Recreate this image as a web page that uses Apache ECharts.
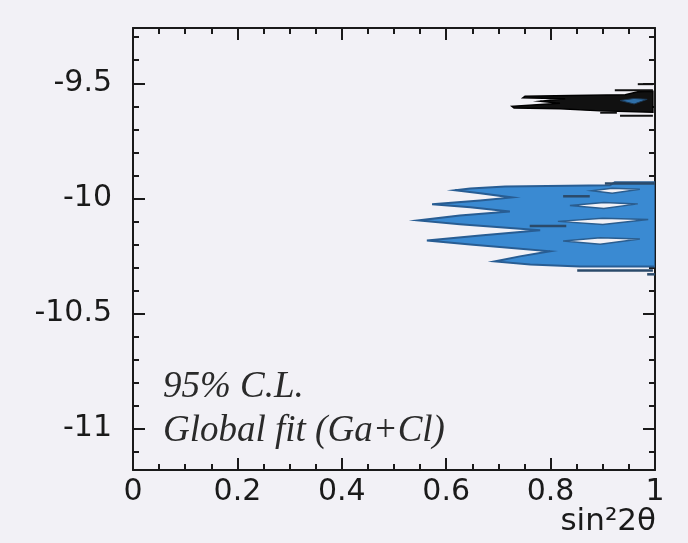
<!DOCTYPE html>
<html><head><meta charset="utf-8">
<script src="https://cdn.jsdelivr.net/npm/echarts@6/dist/echarts.min.js"></script>
<style>html,body{margin:0;padding:0;background:#f2f1f6}#c{width:688px;height:543px}</style>
</head><body><div id="c"></div>
<script>
// ---- data (x = sin^2 2theta, y = log10 dm^2) ----
const xRange = [0, 1];
const yRange = [-11.18, -9.26];
const yMajorTicks = [-11, -10.5, -10, -9.5];
const yMinorTicks = [-11.1, -10.9, -10.8, -10.7, -10.6, -10.4, -10.3, -10.2, -10.1, -9.9, -9.8, -9.7, -9.6, -9.4, -9.3];

// blue (global fit) region outline
const blueOutline = [
  [1.000,-9.930],[0.923,-9.930],[0.914,-9.943],[0.713,-9.948],[0.646,-9.957],[0.617,-9.965],
  [0.665,-9.978],[0.726,-9.996],[0.665,-10.009],[0.573,-10.026],[0.646,-10.039],[0.722,-10.057],
  [0.626,-10.074],[0.546,-10.096],[0.626,-10.113],[0.780,-10.139],[0.665,-10.161],[0.563,-10.183],
  [0.646,-10.200],[0.799,-10.230],[0.741,-10.252],[0.693,-10.274],[0.761,-10.287],[0.856,-10.296],
  [1.000,-10.296]
];
// white holes inside the blue region
const blueHoles = [
  [[0.879,-9.967],[0.918,-9.956],[0.971,-9.960],[0.918,-9.978]],
  [[0.837,-10.031],[0.902,-10.018],[0.967,-10.024],[0.902,-10.044]],
  [[0.814,-10.100],[0.900,-10.086],[0.987,-10.092],[0.900,-10.114]],
  [[0.824,-10.185],[0.895,-10.171],[0.971,-10.177],[0.895,-10.199]]
];
// dark streaks near the blue region
const blueStreaks = [
  [[0.904,-9.935],[1.0,-9.935]],
  [[0.824,-9.991],[0.875,-9.991]],
  [[0.760,-10.120],[0.830,-10.120]],
  [[0.851,-10.313],[0.996,-10.313]],
  [[0.985,-10.330],[1.0,-10.330]]
];
// black region
const blackOutline = [
  [0.996,-9.535],[0.967,-9.537],[0.943,-9.550],[0.839,-9.553],[0.751,-9.556],[0.747,-9.563],
  [0.828,-9.567],[0.780,-9.578],[0.818,-9.587],[0.726,-9.600],[0.730,-9.607],[0.818,-9.611],
  [0.895,-9.620],[0.996,-9.626]
];
const blackInner = [[0.933,-9.575],[0.960,-9.566],[0.985,-9.570],[0.960,-9.590]];
const blackStreaks = [
  [[0.967,-9.504],[0.996,-9.504]],
  [[0.923,-9.530],[0.996,-9.530]],
  [[0.895,-9.628],[0.927,-9.628]],
  [[0.933,-9.641],[0.996,-9.641]]
];

const BG = '#f2f1f6';
const INK = '#1a1a1a';

function polygonSeries(polys, fill, stroke, lw) {
  return {
    type: 'custom', coordinateSystem: 'cartesian2d', xAxisIndex: 0, yAxisIndex: 0,
    clip: true, silent: true, animation: false,
    data: polys.map((p, i) => [p[0][0], p[0][1], i]),
    renderItem: (params, api) => ({
      type: 'polygon',
      shape: { points: polys[params.dataIndex].map(q => api.coord(q)) },
      style: { fill: fill, stroke: stroke, lineWidth: lw }
    })
  };
}
function lineSeries(lines, stroke, lw) {
  return {
    type: 'custom', coordinateSystem: 'cartesian2d', xAxisIndex: 0, yAxisIndex: 0,
    clip: true, silent: true, animation: false,
    data: lines.map((p, i) => [p[0][0], p[0][1], i]),
    renderItem: (params, api) => ({
      type: 'polyline',
      shape: { points: lines[params.dataIndex].map(q => api.coord(q)) },
      style: { stroke: stroke, lineWidth: lw, fill: null }
    })
  };
}

const axisLineStyle = { show: true, lineStyle: { color: INK, width: 2 } };
function xAx(pos, labels) {
  return {
    type: 'value', position: pos, min: xRange[0], max: xRange[1], interval: 0.2,
    axisLine: axisLineStyle,
    axisTick: { show: true, inside: true, length: 12, lineStyle: { color: INK, width: 2 } },
    minorTick: { show: true, splitNumber: 4, length: 6, lineStyle: { color: INK, width: 2 } },
    splitLine: { show: false },
    axisLabel: { show: labels, fontFamily: 'DejaVu Sans', fontSize: 30, color: INK, margin: 7 }
  };
}
function yAx(pos, ticks, len, labels, line) {
  return {
    type: 'value', position: pos, min: yRange[0], max: yRange[1],
    axisLine: line ? axisLineStyle : { show: false },
    axisTick: { show: true, inside: true, length: len, customValues: ticks, lineStyle: { color: INK, width: 2 } },
    splitLine: { show: false },
    axisLabel: labels
      ? { show: true, customValues: ticks, fontFamily: 'DejaVu Sans', fontSize: 30, color: INK, margin: 21 }
      : { show: false }
  };
}

const chart = echarts.init(document.getElementById('c'), null, { renderer: 'canvas' });
chart.setOption({
  backgroundColor: BG,
  animation: false,
  grid: { left: 133, right: 33, top: 28, bottom: 73, show: false },
  xAxis: [xAx('bottom', true), xAx('top', false)],
  yAxis: [
    yAx('left', yMajorTicks, 12, true, true),
    yAx('left', yMinorTicks, 6, false, false),
    yAx('right', yMajorTicks, 12, false, true),
    yAx('right', yMinorTicks, 6, false, false)
  ],
  series: [
    polygonSeries([blueOutline], '#3a8ad2', '#285d93', 2),
    polygonSeries(blueHoles, BG, '#2a5d8f', 1.5),
    lineSeries(blueStreaks, '#2b4a6a', 2.5),
    polygonSeries([blackOutline], '#111111', '#000000', 1.5),
    polygonSeries([blackInner], '#2f6fa8', '#1a3550', 1),
    lineSeries(blackStreaks, '#111111', 2)
  ],
  graphic: [
    { type: 'text', left: 163, top: 369, silent: true,
      style: { text: '95% C.L.', font: 'italic 37px "Liberation Serif"', fill: '#2a2a2a' } },
    { type: 'text', left: 163, top: 413, silent: true,
      style: { text: 'Global fit (Ga+Cl)', font: 'italic 37px "Liberation Serif"', fill: '#2a2a2a' } },
    { type: 'text', right: 32, top: 506, silent: true,
      style: { text: 'sin\u00b22\u03b8', font: '31px "DejaVu Sans"', fill: INK } }
  ]
});
</script>
</body></html>
